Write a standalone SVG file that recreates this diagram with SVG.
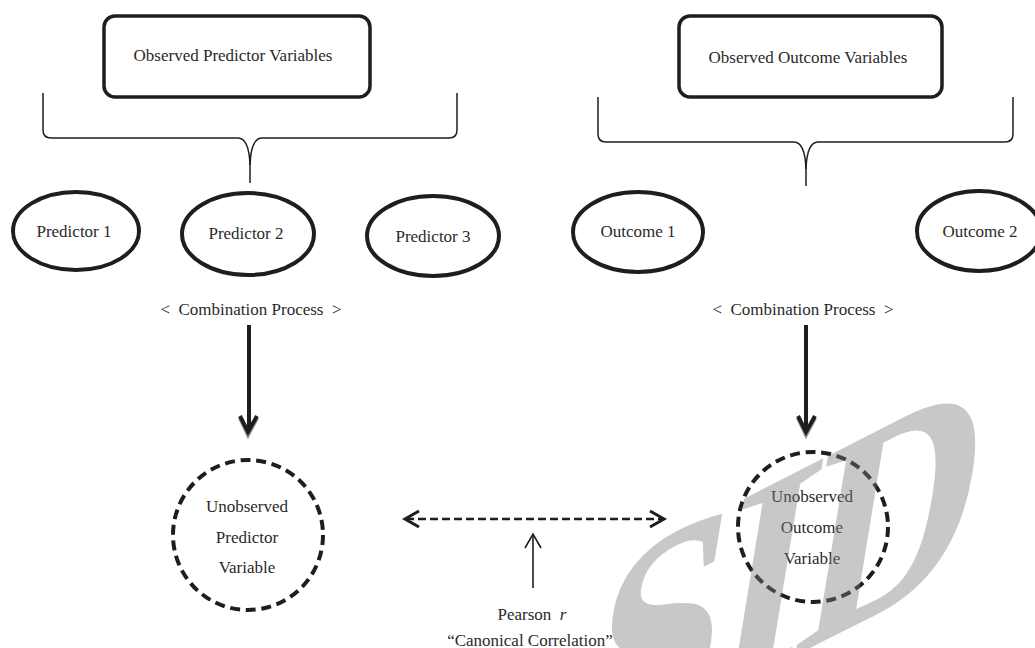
<svg xmlns="http://www.w3.org/2000/svg" width="1035" height="648" viewBox="0 0 1035 648">
<style>
text{font-family:"Liberation Serif","Times New Roman",serif;font-size:17px;fill:#2a2a2a;text-anchor:middle}
.box{fill:none;stroke:#1e1e1e;stroke-width:3.5}
.ell{fill:none;stroke:#1e1e1e;stroke-width:4}
.dc{fill:none;stroke:#1e1e1e;stroke-width:4;stroke-dasharray:10 5.7}
.brace{fill:none;stroke:#1e1e1e;stroke-width:1.5}
.thick{fill:none;stroke:#1e1e1e;stroke-width:4}
.shadow{fill:none;stroke:#9a9a9a;stroke-width:4}
.thin{fill:none;stroke:#1e1e1e;stroke-width:1.6}
.dash{fill:none;stroke:#1e1e1e;stroke-width:2.5;stroke-dasharray:8 4}
.head{fill:none;stroke:#1e1e1e;stroke-width:3}
.wm{font-size:250px;font-weight:bold;fill:#7c7c7c;fill-opacity:0.42;text-anchor:start}
</style>
<rect width="1035" height="648" fill="#ffffff"/>
<g id="obs-predictors"><rect class="box" x="104" y="16" width="266" height="81" rx="11"/><text x="233" y="61">Observed Predictor Variables</text></g>
<g id="obs-outcomes"><rect class="box" x="679" y="16" width="263" height="81" rx="11"/><text x="808" y="63">Observed Outcome Variables</text></g>
<g id="predictor1"><ellipse class="ell" cx="76" cy="231" rx="63" ry="39"/><text x="74" y="237">Predictor 1</text></g>
<g id="predictor2"><ellipse class="ell" cx="248" cy="234" rx="66" ry="41"/><text x="246" y="239">Predictor 2</text></g>
<g id="predictor3"><ellipse class="ell" cx="433" cy="236" rx="66" ry="40"/><text x="433" y="242">Predictor 3</text></g>
<g id="outcome1"><ellipse class="ell" cx="638" cy="232" rx="65" ry="40"/><text x="638" y="237">Outcome 1</text></g>
<g id="outcome2"><ellipse class="ell" cx="979" cy="231" rx="62" ry="40"/><text x="980" y="237">Outcome 2</text></g>
<g id="combo-left"><text x="251" y="315" xml:space="preserve">&lt;  Combination Process  &gt;</text></g>
<g id="combo-right"><text x="803" y="315" xml:space="preserve">&lt;  Combination Process  &gt;</text></g>
<g id="latent-predictor"><circle class="dc" cx="248" cy="535" r="75"/><text x="247" y="512">Unobserved</text><text x="247" y="543">Predictor</text><text x="247" y="573">Variable</text></g>
<g id="latent-outcome"><circle class="dc" cx="813" cy="527" r="75"/><text x="812" y="502">Unobserved</text><text x="812" y="533">Outcome</text><text x="812" y="564">Variable</text></g>
<g id="pearson"><text x="532" y="620" xml:space="preserve">Pearson  <tspan font-style="italic">r</tspan></text><text x="530" y="646">“Canonical Correlation”</text></g>
<g id="connectors">
<path class="brace" d="M43,93 L43,130 Q43,138 51,138 L238,138 Q249,138 250,165 Q251,138 262,138 L449,138 Q457,138 457,130 L457,93"/>
<path class="brace" d="M250,158 L250,183"/>
<path class="brace" d="M598,97 L598,134 Q598,142 606,142 L794,142 Q805,142 806,169 Q807,142 818,142 L1005,142 Q1013,142 1013,134 L1013,97"/>
<path class="brace" d="M806,162 L806,186"/>
<path class="shadow" d="M240,418 L248,435 L257,418"/>
<path class="thick" d="M249,325 L249,431"/>
<path class="thick" d="M240,416 L248,432 L257,416"/>
<path class="shadow" d="M798,418 L806,435 L815,418"/>
<path class="thick" d="M806,325 L806,431"/>
<path class="thick" d="M798,416 L806,432 L815,416"/>
<path class="dash" d="M406,519 L663,519"/>
<path class="head" d="M419,511 L405,519 L419,527"/>
<path class="head" d="M650,511 L664,519 L650,527"/>
<path class="thin" d="M533,588 L533,535"/>
<path class="thin" d="M525,548 L533,534 L541,548"/>
</g>
<text class="wm" x="0" y="0" transform="matrix(0.98,-0.5,-0.2,1.22,575,768)" letter-spacing="-8">SID</text>
</svg>
